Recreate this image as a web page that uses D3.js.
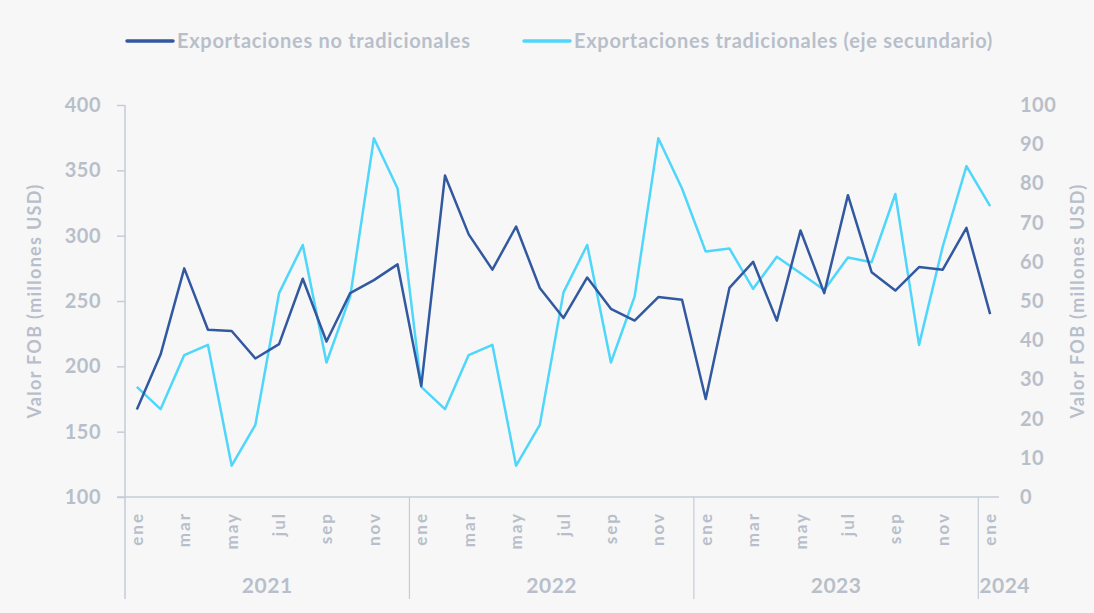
<!DOCTYPE html>
<html>
<head>
<meta charset="utf-8">
<script src="https://cdn.jsdelivr.net/npm/d3@7"></script>
<style>
  body { margin: 0; background: #f7f7f7; }
  svg { display: block; font-family: Lato, "Open Sans", sans-serif; font-weight: 700; }
</style>
</head>
<body>
<svg id="chart"></svg>
<script>
var width = 1094,
    height = 613;

// data
var years = ['2021', '2022', '2023', '2024'];
var monthNames = ['ene','feb','mar','abr','may','jun','jul','ago','sep','oct','nov','dic'];
var noTradicionales = [
  167, 209, 275, 228, 227, 206, 217, 267, 219, 256, 266, 278,
  185, 346, 301, 274, 307, 260, 237, 268, 244, 235, 253, 251,
  175, 260, 280, 235, 304, 256, 331, 272, 258, 276, 274, 306,
  240
];
var tradicionales = [
  28.1, 22.4, 36.2, 38.8, 8.0, 18.4, 52.0, 64.3, 34.3, 51.1, 91.5, 78.7,
  28.1, 22.4, 36.2, 38.8, 8.0, 18.4, 52.2, 64.3, 34.3, 51.1, 91.5, 78.7,
  62.6, 63.4, 53.1, 61.3, 57.1, 52.8, 61.1, 59.9, 77.3, 38.8, 63.9, 84.4,
  74.2
];
var leftTicks = [100, 150, 200, 250, 300, 350, 400];
var rightTicks = [0, 10, 20, 30, 40, 50, 60, 70, 80, 90, 100];

var months = noTradicionales.map(function(d, i) {
  return { i: i, month: monthNames[i % 12], year: years[Math.floor(i / 12)] };
});

var textColor = '#b8bfca',
    axisColor = '#c5ccd8',
    darkBlue = '#3259a0',
    lightBlue = '#4fd6fb';

var svg = d3.select('#chart')
  .attr('width', width)
  .attr('height', height);

svg.append('rect')
  .attr('width', width)
  .attr('height', height)
  .attr('fill', '#f7f7f7');

var x = d3.scaleBand()
  .domain(months.map(function(d) { return d.i; }))
  .range([125, 1002]);

var yLeft = d3.scaleLinear().domain([100, 400]).range([497, 105]);
var yRight = d3.scaleLinear().domain([0, 100]).range([497, 105]);

function cx(i) { return x(i) + x.bandwidth() / 2; }

// left axis
var leftAxis = svg.append('g')
  .attr('transform', 'translate(125,0)')
  .call(d3.axisLeft(yLeft).tickValues(leftTicks).tickSize(8).tickPadding(16));
leftAxis.select('.domain').remove();
leftAxis.selectAll('.tick line').attr('stroke', axisColor).attr('stroke-width', 1.5);
leftAxis.selectAll('.tick text')
  .attr('fill', textColor)
  .style('font-size', '20px')
  .style('letter-spacing', '0.5px')
  .style('font-family', 'Lato, sans-serif')
  .style('font-weight', 700);

// right axis (labels only)
var rightAxis = svg.append('g')
  .attr('transform', 'translate(1002,0)')
  .call(d3.axisRight(yRight).tickValues(rightTicks).tickSize(0).tickPadding(18));
rightAxis.select('.domain').remove();
rightAxis.selectAll('.tick text')
  .attr('fill', textColor)
  .style('font-size', '20px')
  .style('letter-spacing', '0.5px')
  .style('font-family', 'Lato, sans-serif')
  .style('font-weight', 700);

// axis lines
svg.append('line')
  .attr('x1', 125).attr('x2', 125)
  .attr('y1', 105).attr('y2', 599)
  .attr('stroke', axisColor).attr('stroke-width', 1.5);
svg.append('line')
  .attr('x1', 117).attr('x2', 999)
  .attr('y1', 497).attr('y2', 497)
  .attr('stroke', axisColor).attr('stroke-width', 1.5);

// year separators
[12, 24, 36].forEach(function(i) {
  svg.append('line')
    .attr('x1', x(i)).attr('x2', x(i))
    .attr('y1', 497).attr('y2', 599)
    .attr('stroke', axisColor).attr('stroke-width', 1.2);
});

// month labels
svg.append('g')
  .selectAll('text')
  .data(months.filter(function(d) { return d.i % 2 === 0; }))
  .enter().append('text')
  .attr('transform', function(d) {
    return 'translate(' + (cx(d.i) + 6) + ',512) rotate(-90)';
  })
  .attr('text-anchor', 'end')
  .attr('fill', textColor)
  .style('font-size', '17px')
  .style('letter-spacing', '2px')
  .text(function(d) { return d.month; });

// year labels
svg.append('g')
  .selectAll('text')
  .data(years)
  .enter().append('text')
  .attr('x', function(d, k) {
    if (k === 3) return x(36) + 1;
    return (x(k * 12) + x(k * 12 + 11) + x.bandwidth()) / 2;
  })
  .attr('y', 593)
  .attr('text-anchor', function(d, k) { return k === 3 ? 'start' : 'middle'; })
  .attr('fill', textColor)
  .style('font-size', '21px')
  .style('letter-spacing', '0.5px')
  .text(function(d) { return d; });

// axis titles
svg.append('text')
  .attr('transform', 'translate(41,301) rotate(-90)')
  .attr('text-anchor', 'middle')
  .attr('fill', textColor)
  .style('font-size', '18px')
  .style('letter-spacing', '1.3px')
  .text('Valor FOB (millones USD)');
svg.append('text')
  .attr('transform', 'translate(1084,301) rotate(-90)')
  .attr('text-anchor', 'middle')
  .attr('fill', textColor)
  .style('font-size', '18px')
  .style('letter-spacing', '1.3px')
  .text('Valor FOB (millones USD)');

// lines
var lineLeft = d3.line()
  .x(function(d, i) { return cx(i); })
  .y(function(d) { return yLeft(d); });
var lineRight = d3.line()
  .x(function(d, i) { return cx(i); })
  .y(function(d) { return yRight(d); });

svg.append('path')
  .datum(tradicionales)
  .attr('d', lineRight)
  .attr('fill', 'none')
  .attr('stroke', lightBlue)
  .attr('stroke-width', 2.5)
  .attr('stroke-linejoin', 'round');

svg.append('path')
  .datum(noTradicionales)
  .attr('d', lineLeft)
  .attr('fill', 'none')
  .attr('stroke', darkBlue)
  .attr('stroke-width', 2.5)
  .attr('stroke-linejoin', 'round');

// legend
var legendItems = [
  { label: 'Exportaciones no tradicionales', color: darkBlue, x: 127 },
  { label: 'Exportaciones tradicionales (eje secundario)', color: lightBlue, x: 524 }
];
var legend = svg.append('g');
legendItems.forEach(function(d) {
  legend.append('line')
    .attr('x1', d.x).attr('x2', d.x + 46)
    .attr('y1', 41).attr('y2', 41)
    .attr('stroke', d.color)
    .attr('stroke-width', 3.5)
    .attr('stroke-linecap', 'round');
  legend.append('text')
    .attr('x', d.x + 50)
    .attr('y', 48)
    .attr('fill', textColor)
    .style('font-size', '20px')
    .style('letter-spacing', '0.7px')
    .text(d.label);
});
</script>
</body>
</html>
